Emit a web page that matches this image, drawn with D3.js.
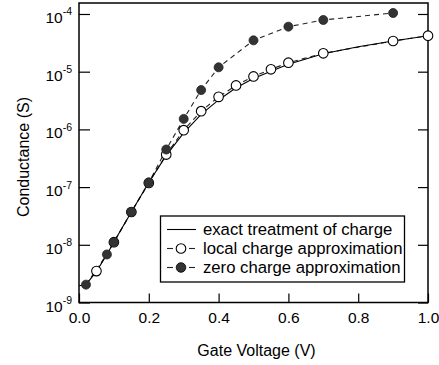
<!DOCTYPE html>
<html>
<head>
<meta charset="utf-8">
<script src="https://cdn.jsdelivr.net/npm/d3@7"></script>
<style>
  body { margin: 0; background: #fff; }
  text { font-family: "Liberation Sans", Arial, sans-serif; fill: #000; }
</style>
</head>
<body>
<svg id="chart"></svg>
<script>
// ---- DATA ----
let exactV = [0.0, 0.02, 0.05, 0.08, 0.10, 0.15, 0.20, 0.25, 0.30, 0.35, 0.40, 0.45, 0.50, 0.55, 0.60, 0.70, 0.80, 0.90, 1.00];
let exactG = [1.95e-9, 2.04e-9, 3.47e-9, 6.8e-9, 1.12e-8, 3.7e-8, 1.2e-7, 3.55e-7, 8.7e-7, 1.82e-6, 3.24e-6, 5.25e-6, 7.6e-6, 1.02e-5, 1.35e-5, 2.04e-5, 2.7e-5, 3.4e-5, 4.2e-5];

let localV = [0.05, 0.10, 0.15, 0.20, 0.25, 0.30, 0.35, 0.40, 0.45, 0.50, 0.55, 0.60, 0.70, 0.90, 1.00];
let localG = [3.5e-9, 1.11e-8, 3.7e-8, 1.18e-7, 3.66e-7, 9.7e-7, 2.07e-6, 3.66e-6, 5.78e-6, 8.28e-6, 1.10e-5, 1.43e-5, 2.08e-5, 3.40e-5, 4.2e-5];

let zeroV = [0.02, 0.08, 0.10, 0.15, 0.20, 0.25, 0.30, 0.35, 0.40, 0.50, 0.60, 0.70, 0.90];
let zeroG = [2.04e-9, 6.8e-9, 1.11e-8, 3.7e-8, 1.2e-7, 4.48e-7, 1.52e-6, 4.8e-6, 1.19e-5, 3.49e-5, 6.03e-5, 7.87e-5, 1.04e-4];

let xTicks = [0.0, 0.2, 0.4, 0.6, 0.8, 1.0];
let yTicks = [1e-9, 1e-8, 1e-7, 1e-6, 1e-5, 1e-4];
let legendLabels = ["exact treatment of charge", "local charge approximation", "zero charge approximation"];

let width = 439, height = 365;
let plotL = 79, plotR = 428, plotT = 3, plotB = 302.5;

let svg = d3.select("#chart").attr("width", width).attr("height", height);

let x = d3.scaleLinear().domain([0, 1]).range([plotL, plotR]);
let y = d3.scaleLog().domain([1e-9, 1.55e-4]).range([plotB, plotT]);

let zip = (vs, gs) => vs.map((v, i) => ({ v: v, g: gs[i] }));
let line = d3.line().x(d => x(d.v)).y(d => y(d.g));

// ---- AXES ----
let xAxis = svg.append("g").attr("transform", `translate(0,${plotB})`)
  .call(d3.axisBottom(x).tickValues(xTicks).tickSizeInner(-9).tickSizeOuter(0).tickFormat(d3.format(".1f")));
xAxis.select(".domain").remove();
xAxis.selectAll("line").attr("stroke", "#000").attr("stroke-width", 1.2);
xAxis.selectAll("text").attr("y", 20.5).attr("dy", null).attr("font-size", "15.5px")
  .attr("font-family", "Liberation Sans, Arial, sans-serif");

let yAxis = svg.append("g").attr("transform", `translate(${plotL},0)`)
  .call(d3.axisRight(y).tickValues(yTicks).tickSizeInner(11).tickSizeOuter(0).tickFormat(""));
yAxis.select(".domain").remove();
yAxis.selectAll("line").attr("stroke", "#000").attr("stroke-width", 1.2);

let yAxisR = svg.append("g").attr("transform", `translate(${plotR},0)`)
  .call(d3.axisLeft(y).tickValues(yTicks).tickSizeInner(10).tickSizeOuter(0).tickFormat(""));
yAxisR.select(".domain").remove();
yAxisR.selectAll("line").attr("stroke", "#000").attr("stroke-width", 1.2);

// y labels as 10^n
let yLab = svg.append("g").selectAll("text").data(yTicks).enter().append("text")
  .attr("text-anchor", "end")
  .attr("x", 72)
  .attr("y", d => y(d) + 9)
  .attr("font-size", "15.5px");
yLab.append("tspan").text("10");
yLab.append("tspan").attr("dy", -7.5).attr("font-size", "10.5px").text(d => Math.round(Math.log10(d)));

// frame
svg.append("rect")
  .attr("x", plotL).attr("y", plotT)
  .attr("width", plotR - plotL).attr("height", plotB - plotT)
  .attr("fill", "none").attr("stroke", "#000").attr("stroke-width", 1.5);

// titles
svg.append("text")
  .attr("x", (plotL + plotR) / 2 + 3).attr("y", 356)
  .attr("text-anchor", "middle").attr("font-size", "16px")
  .text("Gate Voltage (V)");

svg.append("text")
  .attr("transform", "translate(29,157) rotate(-90)")
  .attr("text-anchor", "middle").attr("font-size", "16px")
  .text("Conductance (S)");

// ---- SERIES ----
let exact = zip(exactV, exactG);
let local = zip(localV, localG);
let zero = zip(zeroV, zeroG);

svg.append("path").datum(zero).attr("d", line)
  .attr("fill", "none").attr("stroke", "#222").attr("stroke-width", 1.1).attr("stroke-dasharray", "5,4");
svg.append("path").datum(local).attr("d", line)
  .attr("fill", "none").attr("stroke", "#222").attr("stroke-width", 1.1).attr("stroke-dasharray", "5,4");
svg.append("path").datum(exact).attr("d", line)
  .attr("fill", "none").attr("stroke", "#000").attr("stroke-width", 1.1);

svg.append("g").selectAll("circle").data(local).enter().append("circle")
  .attr("cx", d => x(d.v)).attr("cy", d => y(d.g)).attr("r", 4.8)
  .attr("fill", "#fff").attr("stroke", "#000").attr("stroke-width", 1.1);

svg.append("g").selectAll("circle").data(zero).enter().append("circle")
  .attr("cx", d => x(d.v)).attr("cy", d => y(d.g)).attr("r", 4.5)
  .attr("fill", "#333").attr("stroke", "#222").attr("stroke-width", 0.8);

// ---- LEGEND ----
let lg = svg.append("g");
lg.append("rect").attr("x", 160.5).attr("y", 216).attr("width", 244).attr("height", 66)
  .attr("fill", "#fff").attr("stroke", "#000").attr("stroke-width", 1.3);

let rowY = [229.5, 248.5, 267.5];
legendLabels.forEach((lab, i) => {
  let yy = rowY[i];
  if (i === 0) {
    lg.append("line").attr("x1", 167).attr("x2", 196).attr("y1", yy).attr("y2", yy)
      .attr("stroke", "#000").attr("stroke-width", 1.1);
  } else {
    lg.append("line").attr("x1", 167).attr("x2", 173).attr("y1", yy).attr("y2", yy)
      .attr("stroke", "#222").attr("stroke-width", 1.1);
    lg.append("line").attr("x1", 189).attr("x2", 195).attr("y1", yy).attr("y2", yy)
      .attr("stroke", "#222").attr("stroke-width", 1.1);
    lg.append("circle").attr("cx", 181).attr("cy", yy).attr("r", 4.8)
      .attr("fill", i === 1 ? "#fff" : "#333").attr("stroke", "#000").attr("stroke-width", i === 1 ? 1.1 : 0.8);
  }
  lg.append("text").attr("x", 203).attr("y", yy + 5.5).attr("font-size", "16.7px").text(lab);
});
</script>
</body>
</html>
